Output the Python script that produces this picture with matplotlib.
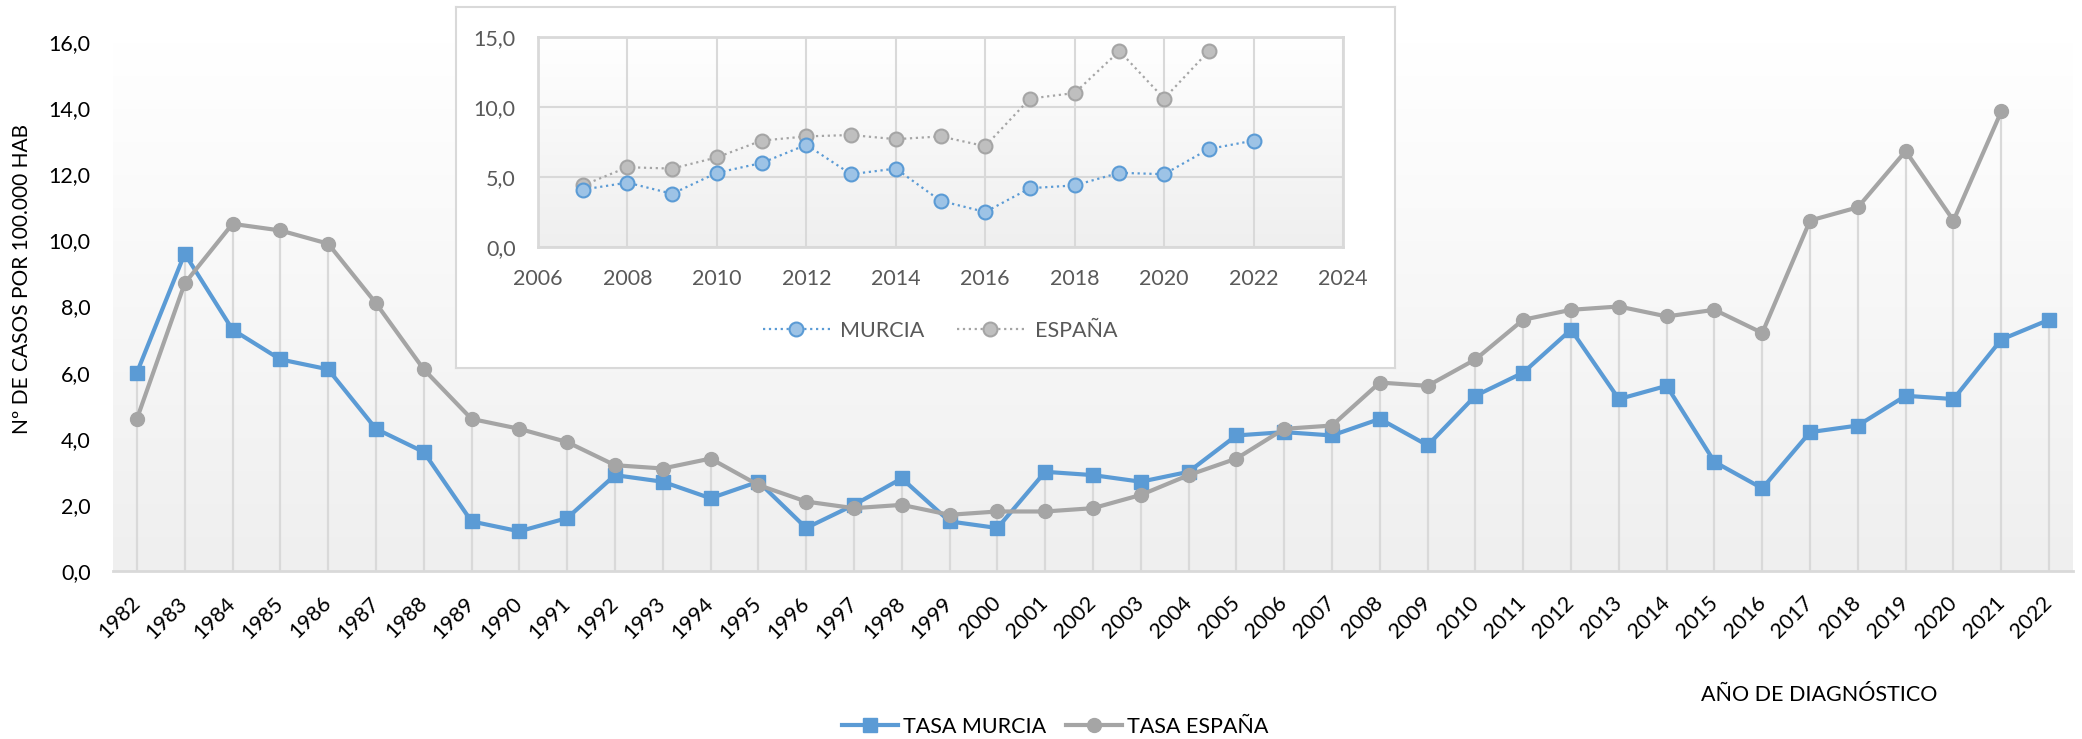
import numpy as np
import matplotlib
matplotlib.use("Agg")
from matplotlib import pyplot as plt
from matplotlib.colors import LinearSegmentedColormap
from matplotlib.lines import Line2D
from matplotlib.ticker import FuncFormatter

plt.rcParams['font.family'] = ['Lato', 'DejaVu Sans']

# main chart: rate per 100.000 inhabitants
years = list(range(1982, 2023))
tasa_murcia = [6.0, 9.6, 7.3, 6.4, 6.1, 4.3, 3.6, 1.5, 1.2, 1.6,
               2.9, 2.7, 2.2, 2.7, 1.3, 2.0, 2.8, 1.5, 1.3, 3.0,
               2.9, 2.7, 3.0, 4.1, 4.2, 4.1, 4.6, 3.8, 5.3, 6.0,
               7.3, 5.2, 5.6, 3.3, 2.5, 4.2, 4.4, 5.3, 5.2, 7.0,
               7.6]
tasa_espana = [4.6, 8.7, 10.5, 10.3, 9.9, 8.1, 6.1, 4.6, 4.3, 3.9,
               3.2, 3.1, 3.4, 2.6, 2.1, 1.9, 2.0, 1.7, 1.8, 1.8,
               1.9, 2.3, 2.9, 3.4, 4.3, 4.4, 5.7, 5.6, 6.4, 7.6,
               7.9, 8.0, 7.7, 7.9, 7.2, 10.6, 11.0, 12.7, 10.6, 13.9,
               np.nan]

# inset chart
inset_years_murcia = list(range(2007, 2023))
inset_murcia = [4.1, 4.6, 3.8, 5.3, 6.0, 7.3, 5.2, 5.6, 3.3, 2.5,
                4.2, 4.4, 5.3, 5.2, 7.0, 7.6]
inset_years_espana = list(range(2007, 2022))
inset_espana = [4.4, 5.7, 5.6, 6.4, 7.6, 7.9, 8.0, 7.7, 7.9, 7.2,
                10.6, 11.0, 14.0, 10.6, 14.0]

BLUE = '#5B9BD5'
GRAY = '#A5A5A5'
GRID = '#D9D9D9'
W, H = 2082, 739


def fig_rect(x0, y0, x1, y1):
    # pixel box (top-left origin) -> figure fraction rect
    return [x0 / W, 1 - y1 / H, (x1 - x0) / W, (y1 - y0) / H]


def comma(v, _):
    return f"{v:.1f}".replace('.', ',')


grad_cmap = LinearSegmentedColormap.from_list('bg', ['#EFEFEF', '#FFFFFF'])
grad = np.linspace(0, 1, 256).reshape(-1, 1)

fig = plt.figure(figsize=(W / 100, H / 100), dpi=100)

# ---- main chart ----
ax = fig.add_axes(fig_rect(113, 42, 2073, 571))
ax.imshow(grad, extent=[0, 1, 0, 1], transform=ax.transAxes, cmap=grad_cmap,
          aspect='auto', origin='lower', zorder=0)

tops = np.nanmax(np.vstack([tasa_murcia, tasa_espana]), axis=0)
ax.vlines(years, 0, tops, color=GRID, lw=1.6, zorder=1)

ax.plot(years, tasa_murcia, color=BLUE, lw=3, marker='s', ms=10, zorder=3,
        label='TASA MURCIA')
ax.plot(years, tasa_espana, color=GRAY, lw=3, marker='o', ms=10, zorder=4,
        label='TASA ESPAÑA')

ax.set_xlim(1981.5, 2022.5)
ax.set_ylim(0, 16)
ax.set_yticks(np.arange(0, 17, 2))
ax.yaxis.set_major_formatter(FuncFormatter(comma))
ax.set_xticks(years)
ax.set_xticklabels([str(y) for y in years], rotation=45, ha='right',
                   va='center', rotation_mode='anchor')
ax.tick_params(axis='both', length=0, labelsize=15.5, colors='black')
ax.tick_params(axis='y', pad=16)
ax.tick_params(axis='x', pad=21)
for s in ['left', 'top', 'right']:
    ax.spines[s].set_visible(False)
ax.spines['bottom'].set_color(GRID)
ax.spines['bottom'].set_linewidth(2)

fig.text(22 / W, 1 - 279 / H, 'Nº DE CASOS POR 100.000 HAB', rotation=90,
         ha='center', va='center', fontsize=15)
fig.text(1819 / W, 1 - 695 / H, 'AÑO DE DIAGNÓSTICO', ha='center',
         va='center', fontsize=15.5)

handles = [Line2D([], [], color=BLUE, lw=3, marker='s', ms=10),
           Line2D([], [], color=GRAY, lw=3, marker='o', ms=10)]
fig.legend(handles, ['TASA MURCIA', 'TASA ESPAÑA'], loc='center',
           bbox_to_anchor=(1055 / W, 1 - 727 / H), ncol=2, frameon=False,
           fontsize=15.5, handlelength=2.6, handletextpad=0.25,
           columnspacing=0.9)

# ---- inset ----
box = fig.add_axes(fig_rect(456, 7, 1395, 368), zorder=5)
box.set_facecolor('white')
box.set_xticks([])
box.set_yticks([])
for s in box.spines.values():
    s.set_color(GRID)
    s.set_linewidth(1.5)

ins = fig.add_axes(fig_rect(538, 37, 1343, 247), zorder=6)
ins.imshow(grad, extent=[0, 1, 0, 1], transform=ins.transAxes, cmap=grad_cmap,
           aspect='auto', origin='lower', zorder=0)
ins.plot(inset_years_murcia, inset_murcia, color=BLUE, lw=1.6, ls=':',
         marker='o', ms=10, mfc='#9DC3E6', mec=BLUE, mew=1.5, zorder=4)
ins.plot(inset_years_espana, inset_espana, color=GRAY, lw=1.6, ls=':',
         marker='o', ms=10, mfc='#BFBFBF', mec=GRAY, mew=1.5, zorder=3)
ins.set_xlim(2006, 2024)
ins.set_ylim(0, 15)
ins.set_xticks(range(2006, 2025, 2))
ins.set_yticks([0, 5, 10, 15])
ins.yaxis.set_major_formatter(FuncFormatter(comma))
ins.grid(True, color=GRID, lw=1.5, zorder=1)
ins.set_axisbelow(True)
ins.tick_params(axis='both', length=0, labelsize=15.5, colors='#595959')
ins.tick_params(axis='y', pad=16)
ins.tick_params(axis='x', pad=16)
for s in ins.spines.values():
    s.set_color(GRID)
    s.set_linewidth(2)

ins_handles = [Line2D([], [], color=BLUE, lw=1.6, ls=':', marker='o', ms=10,
                      mfc='#9DC3E6', mec=BLUE, mew=1.5),
               Line2D([], [], color=GRAY, lw=1.6, ls=':', marker='o', ms=10,
                      mfc='#BFBFBF', mec=GRAY, mew=1.5)]
leg = box.legend(ins_handles, ['MURCIA', 'ESPAÑA'], loc='center',
                 bbox_to_anchor=(940 / W, 1 - 331 / H),
                 bbox_transform=fig.transFigure, ncol=2, frameon=False,
                 fontsize=15.5, handlelength=3.1, handletextpad=0.5,
                 columnspacing=1.5)
for t in leg.get_texts():
    t.set_color('#595959')

fig.savefig('out.png', dpi=100)
